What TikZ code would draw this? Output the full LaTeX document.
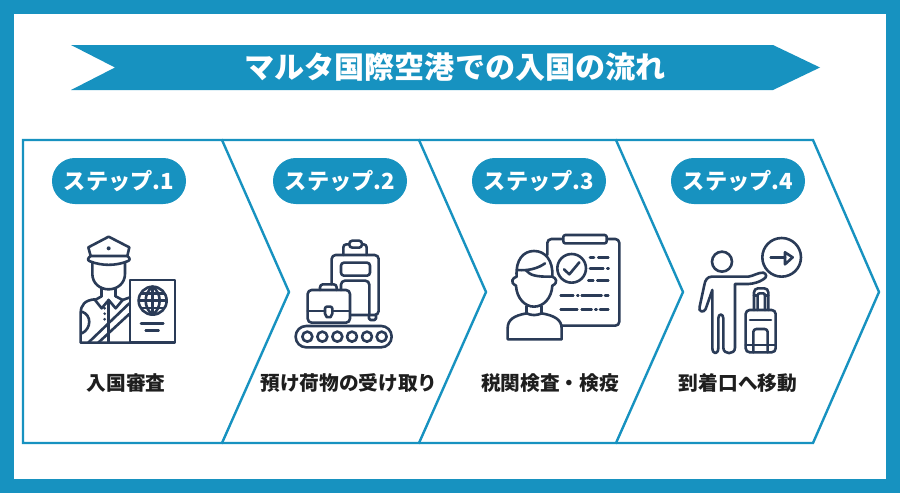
\documentclass[tikz,border=0pt]{standalone}
\usepackage{fontspec}
\setmainfont{Noto Sans CJK JP}
\definecolor{brand}{HTML}{1792C0}
\definecolor{ink}{HTML}{2A3B57}
\definecolor{txt}{HTML}{1E1E1E}
\tikzset{
  chevron/.style={draw=brand,line width=2.4pt,line join=miter},
  pill/.style={fill=brand,rounded corners=22.9pt,minimum width=134pt,minimum height=46pt,inner sep=0pt,text=white,font=\fontsize{22.2}{23}\selectfont\bfseries},
  steplabel/.style={text=txt,inner sep=0pt,font=\fontsize{19.7}{20}\selectfont\bfseries},
  icon/.style={draw=ink,line width=2.6pt,line cap=round,line join=round},
  iconzoom/.style={shift={#1},x=0.3333pt,y=-0.3333pt}
}
\begin{document}
\begin{tikzpicture}[x=1pt,y=-1pt]
\useasboundingbox (0,0) rectangle (900,493);
\fill[brand] (0,0) rectangle (900,493);
\fill[white] (14,14) rectangle (886,479);
% title banner
\fill[brand] (71,45) -- (773,45) -- (820,67.5) -- (773,90) -- (71,90) -- (115,67.5) -- cycle;
\node[text=white,inner sep=0pt,font=\fontsize{30.1}{30}\selectfont\bfseries] (title) at (455,67.5) {マルタ国際空港での入国の流れ};
% chevrons
\draw[chevron] (23,140) -- (222,140) -- (289,292) -- (222,443) -- (23,443) -- cycle;
\draw[chevron] (222,140) -- (419,140) -- (486,292) -- (419,443) -- (222,443);
\draw[chevron] (419,140) -- (616,140) -- (683,292) -- (616,443) -- (419,443);
\draw[chevron] (616,140) -- (813,140) -- (879,292) -- (813,443) -- (616,443);
% pills
\node[pill] (s1) at (119,181) {ステップ.1};
\node[pill] (s2) at (340,181) {ステップ.2};
\node[pill] (s3) at (539,181) {ステップ.3};
\node[pill] (s4) at (738,181) {ステップ.4};
% labels
\node[steplabel] (l1) at (126,383) {入国審査};
\node[steplabel] (l2) at (349,383) {預け荷物の受け取り};
\node[steplabel] (l3) at (550,383) {税関検査・検疫};
\node[steplabel] (l4) at (738,383) {到着口へ移動};
% icon 1: officer and passport
\begin{scope}[iconzoom={(50,220)}]
\draw[icon] (176,50) -- (115,82) -- (122,108) -- (232,108) -- (238,82) -- cycle;
\draw[icon] (122,108) .. controls (112,114) and (112,122) .. (120,124) .. controls (155,138) and (197,138) .. (232,124) .. controls (241,122) and (241,114) .. (232,108);
\fill[ink] (176,85) circle (6);
\draw[icon] (127,127) -- (127,162) .. controls (127,190) and (150,208) .. (176,208) .. controls (202,208) and (225,190) .. (225,162) -- (225,127);
\draw[icon] (155,205) -- (155,229) (197,205) -- (197,229);
\draw[icon] (155,229) -- (135,240) -- (155,265) -- (176,240) -- (197,265) -- (218,240) -- (197,229);
\draw[icon] (176,240) -- (176,368);
\draw[icon] (135,238) .. controls (105,240) and (92,255) .. (92,280) -- (92,368) -- (240,368);
\draw[icon] (96,275) .. controls (125,285) and (125,325) .. (96,340);
\fill[ink] (164,265) circle (4.5) (164,281) circle (4.5) (164,298) circle (4.5);
\draw[icon] (115,368) -- (238,250) (145,368) -- (238,282);
\draw[icon] (218,240) -- (240,232);
\draw[icon] (240,180) rectangle (375,368);
\draw[icon] (308,242) circle (42);
\draw[icon] (308,200) .. controls (280,220) and (280,264) .. (308,284) .. controls (336,264) and (336,220) .. (308,200);
\draw[icon] (308,200) -- (308,284) (267,242) -- (349,242) (274,220) -- (342,220) (274,264) -- (342,264);
\draw[icon] (273,310) -- (340,310) (287,332) -- (326,332);
\end{scope}
% icon 2: baggage on conveyor
\begin{scope}[iconzoom={(280,225)}]
\draw[icon,rounded corners=3pt] (190,90) -- (190,58) -- (260,58) -- (260,90);
\draw[icon,fill=white,rounded corners=3pt] (208,47) rectangle (246,68);
\draw[icon,rounded corners=4pt] (155,178) -- (155,90) -- (296,90) -- (296,270) -- (212,270);
\draw[icon,rounded corners=3pt] (183,113) rectangle (270,152);
\draw[icon,rounded corners=4pt] (183,195) -- (183,167) -- (268,167) -- (268,270);
\draw[icon,rounded corners=1.5pt] (267,270) -- (267,285) -- (288,285) -- (288,270);
\draw[icon,rounded corners=3pt] (120,195) -- (120,178) -- (170,178) -- (170,195);
\draw[icon,rounded corners=4pt] (83,195) rectangle (210,293);
\draw[icon] (83,258) -- (135,258) (157,258) -- (210,258);
\draw[icon,rounded corners=2pt] (135,245) -- (157,245) -- (157,272) -- (146,280) -- (135,272) -- cycle;
\draw[icon,rounded corners=10.5pt] (47,303) rectangle (335,367);
\foreach \cx in {82,127,172,216,261,305} \draw[icon] (\cx,335) circle (15);
\end{scope}
% icon 3: traveller and checklist
\begin{scope}[iconzoom={(490,225)}]
\draw[icon,rounded corners=4pt] (172,90) -- (172,42) -- (388,42) -- (388,302) -- (215,302);
\draw[icon,fill=white,rounded corners=2pt] (220,30) rectangle (350,55);
\draw[icon] (245,130) circle (43);
\draw[icon] (222,133) -- (238,148) -- (268,112);
\draw[icon] (300,97) -- (312,97) (325,97) -- (355,97) (300,131) -- (340,131) (352,131) -- (356,131) (295,167) -- (310,167) (322,167) -- (355,167);
\draw[icon] (212,212) -- (250,212) (262,212) -- (265,212) (275,212) -- (335,212) (345,212) -- (355,212);
\draw[icon] (212,254) -- (262,254) (275,254) -- (305,254) (316,254) -- (320,254) (330,254) -- (355,254);
\draw[icon] (80,155) .. controls (76,105) and (100,78) .. (132,78) .. controls (165,78) and (190,105) .. (187,155);
\draw[icon] (80,155) .. controls (68,158) and (58,172) .. (78,182) .. controls (80,220) and (105,245) .. (132,245) .. controls (160,245) and (185,220) .. (187,182) .. controls (207,172) and (197,158) .. (187,155);
\draw[icon] (82,135) .. controls (115,138) and (145,130) .. (165,115);
\draw[icon] (108,136) .. controls (120,150) and (135,156) .. (187,155);
\draw[icon] (110,243) -- (110,265) (155,243) -- (155,265);
\draw[icon] (110,265) .. controls (125,272) and (140,272) .. (155,265);
\draw[icon] (110,265) .. controls (70,272) and (53,285) .. (53,310) -- (53,343) -- (215,343) -- (215,310) .. controls (215,285) and (195,272) .. (155,265);
\end{scope}
% icon 4: traveller with suitcase and sign
\begin{scope}[iconzoom={(685,225)}]
\draw[icon] (111,110) circle (30);
\draw[icon] (290,97) circle (58);
\draw[icon] (257,97) -- (300,97);
\draw[icon] (300,82) -- (323,97) -- (300,118) -- cycle;
\draw[icon] (80,155) -- (190,155) .. controls (205,153) and (220,142) .. (235,143) .. controls (246,146) and (246,158) .. (235,163) .. controls (222,172) and (205,176) .. (190,177) -- (150,177) -- (150,368) .. controls (150,390) and (115,390) .. (115,368) -- (115,280) .. controls (115,265) and (100,265) .. (100,280) -- (100,368) .. controls (100,390) and (82,390) .. (82,368) -- (82,195) -- (62,252) .. controls (57,265) and (38,260) .. (44,245) -- (58,180) .. controls (60,165) and (68,155) .. (80,155) -- cycle;
\draw[icon,rounded corners=4pt] (182,255) rectangle (272,382);
\draw[icon,rounded corners=4pt] (207,255) -- (207,190) -- (250,190) -- (250,255);
\draw[icon,rounded corners=2pt] (218,255) -- (218,205) -- (240,205) -- (240,255);
\draw[icon] (207,212) -- (218,212) (240,212) -- (250,212);
\draw[icon] (195,285) -- (258,285);
\draw[icon,rounded corners=3pt] (205,382) -- (205,312) -- (248,312) -- (248,382);
\draw[icon] (182,360) -- (272,360);
\end{scope}
\end{tikzpicture}
\end{document}
